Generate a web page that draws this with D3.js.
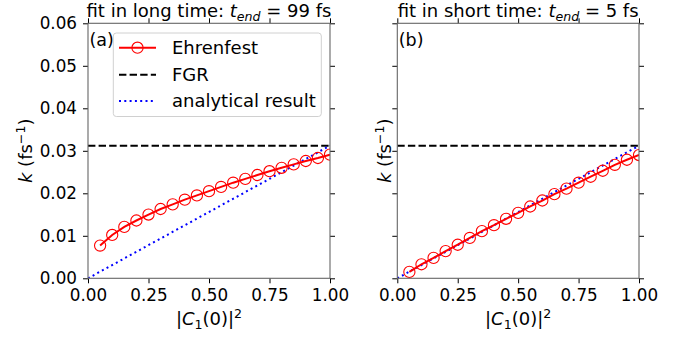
<!DOCTYPE html>
<html>
<head>
<meta charset="utf-8">
<script src="https://cdn.jsdelivr.net/npm/d3@7"></script>
<style>
body { margin: 0; background: #fff; }
svg text { font-family: "DejaVu Sans", sans-serif; fill: #000; }
</style>
</head>
<body>
<div id="chart"></div>
<script>
// |C1(0)|^2 values
var pops = [0.05, 0.10, 0.15, 0.20, 0.25, 0.30, 0.35, 0.40, 0.45, 0.50,
            0.55, 0.60, 0.65, 0.70, 0.75, 0.80, 0.85, 0.90, 0.95, 1.00]
// Ehrenfest rates, long time fit (a)
var ehrLong = [0.0077, 0.0102, 0.0121, 0.0136, 0.0150, 0.0163, 0.0174, 0.0185, 0.0195, 0.0205,
               0.0215, 0.0225, 0.0234, 0.0243, 0.0252, 0.0260, 0.0268, 0.0276, 0.0283, 0.0291]
// Ehrenfest rates, short time fit (b)
var ehrShort = [0.0015, 0.0033, 0.0048, 0.0064, 0.0079, 0.0095, 0.0111, 0.0125, 0.0140, 0.0154,
                0.0169, 0.0183, 0.0198, 0.0211, 0.0225, 0.0239, 0.0253, 0.0267, 0.0279, 0.0290]
var fgr = 0.0312
var analyticX = [0, 1]
var xTicks = [0, 0.25, 0.5, 0.75, 1.0]
var yTicks = [0, 0.01, 0.02, 0.03, 0.04, 0.05, 0.06]
var titleNums = ["99", "5"]
var titleWords = ["fit in long time: ", "fit in short time: "]
var panelTags = ["(a)", "(b)"]

var width = 680, height = 337
var plotTop = 23.3, plotBottom = 278.3
var fsTick = '16.8px', fsLab = '18px', fsSmall = '12.6px', fsTag = '17.5px'
var panels = [
    {x0: 88, x1: 330, data: ehrLong, showY: true, legend: true},
    {x0: 397.3, x1: 639, data: ehrShort, showY: false, legend: false}
]

var svg = d3.select('#chart').append('svg')
    .attr('width', width)
    .attr('height', height)

var defs = svg.append('defs')

panels.forEach(function(p, pi) {
    var scaleX = d3.scaleLinear().domain([0, 1]).range([p.x0, p.x1])
    var scaleY = d3.scaleLinear().domain([0, 0.06]).range([plotBottom, plotTop])
    var g = svg.append('g')

    defs.append('clipPath').attr('id', 'clip' + pi)
        .append('rect')
        .attr('x', p.x0).attr('y', plotTop)
        .attr('width', p.x1 - p.x0).attr('height', plotBottom - plotTop)

    var plot = g.append('g').attr('clip-path', 'url(#clip' + pi + ')')

    // FGR line
    plot.append('line')
        .attr('x1', scaleX(0)).attr('x2', scaleX(1))
        .attr('y1', scaleY(fgr)).attr('y2', scaleY(fgr))
        .attr('stroke', '#000').attr('stroke-width', 2)
        .attr('stroke-dasharray', '7.4,3.2')

    // analytical k = FGR * |C1(0)|^2
    var line = d3.line()
        .x(function(d) { return scaleX(d[0]) })
        .y(function(d) { return scaleY(d[1]) })
    plot.append('path')
        .datum(analyticX.map(function(x) { return [x, fgr * x] }))
        .attr('d', line)
        .attr('fill', 'none')
        .attr('stroke', '#0000ff').attr('stroke-width', 2)
        .attr('stroke-dasharray', '2,3.3')

    // Ehrenfest
    var pts = pops.map(function(x, i) { return [x, p.data[i]] })
    plot.append('path')
        .datum(pts)
        .attr('d', line)
        .attr('fill', 'none')
        .attr('stroke', '#ff0000').attr('stroke-width', 2)
    plot.selectAll('.mk')
        .data(pts)
        .enter().append('circle')
        .attr('class', 'mk')
        .attr('cx', function(d) { return scaleX(d[0]) })
        .attr('cy', function(d) { return scaleY(d[1]) })
        .attr('r', 5.6)
        .attr('fill', 'none')
        .attr('stroke', '#ff0000').attr('stroke-width', 1.1)

    // axes: ticks on all four sides
    var fmt = d3.format('.2f')
    var axB = g.append('g').attr('transform', 'translate(0,' + plotBottom + ')')
        .call(d3.axisBottom(scaleX).tickValues(xTicks).tickFormat(fmt).tickSize(5).tickPadding(6))
    var axT = g.append('g').attr('transform', 'translate(0,' + plotTop + ')')
        .call(d3.axisTop(scaleX).tickValues(xTicks).tickFormat('').tickSize(5))
    var axL = g.append('g').attr('transform', 'translate(' + p.x0 + ',0)')
        .call(d3.axisLeft(scaleY).tickValues(yTicks).tickFormat(p.showY ? fmt : '').tickSize(5).tickPadding(6))
    var axR = g.append('g').attr('transform', 'translate(' + p.x1 + ',0)')
        .call(d3.axisRight(scaleY).tickValues(yTicks).tickFormat('').tickSize(5))
    ;[axB, axT, axL, axR].forEach(function(a) {
        a.select('.domain').remove()
        a.selectAll('.tick line').attr('stroke', '#000').attr('stroke-width', 1)
        a.selectAll('.tick text').style('font-size', fsTick).attr('fill', '#000')
    })

    // frame
    g.append('rect')
        .attr('x', p.x0).attr('y', plotTop)
        .attr('width', p.x1 - p.x0).attr('height', plotBottom - plotTop)
        .attr('fill', 'none').attr('stroke', '#666').attr('stroke-width', 1.1)

    var cx = (p.x0 + p.x1) / 2

    // title
    var title = g.append('text').attr('x', cx).attr('y', 17)
        .attr('text-anchor', 'middle').style('font-size', fsLab)
    title.append('tspan').text(titleWords[pi])
    title.append('tspan').style('font-style', 'italic').text('t')
    title.append('tspan').style('font-style', 'italic').style('font-size', fsSmall)
        .attr('dy', 4).text('end')
    title.append('tspan').attr('dy', -4).text(' = ' + titleNums[pi] + ' fs')

    // x label
    var xl = g.append('text').attr('x', cx).attr('y', 325)
        .attr('text-anchor', 'middle').style('font-size', fsLab)
    xl.append('tspan').text('|')
    xl.append('tspan').style('font-style', 'italic').text('C')
    xl.append('tspan').style('font-size', fsSmall).attr('dy', 4).text('1')
    xl.append('tspan').attr('dy', -4).text('(0)|')
    xl.append('tspan').style('font-size', fsSmall).attr('dy', -7).text('2')

    // y label
    var lx = p.showY ? 32 : 391
    var yl = g.append('text')
        .attr('transform', 'translate(' + lx + ',' + ((plotTop + plotBottom) / 2) + ') rotate(-90)')
        .attr('text-anchor', 'middle').style('font-size', fsLab)
    yl.append('tspan').style('font-style', 'italic').text('k')
    yl.append('tspan').text(' (fs')
    yl.append('tspan').style('font-size', fsSmall).attr('dy', -7).text('\u22121')
    yl.append('tspan').attr('dy', 7).text(')')

    // panel tag
    g.append('text').attr('x', p.x0 + 1.5).attr('y', 45.5)
        .style('font-size', fsTag).text(panelTags[pi])

    // legend
    if (p.legend) {
        var lg = g.append('g')
        lg.append('rect')
            .attr('x', 113.3).attr('y', 33).attr('width', 208).attr('height', 83.5)
            .attr('rx', 3).attr('fill', '#fff').attr('fill-opacity', 0.8)
            .attr('stroke', '#d0d0d0').attr('stroke-width', 1)
        var rows = [
            {label: 'Ehrenfest', y: 47.7, color: '#ff0000', dash: null, marker: true},
            {label: 'FGR', y: 74.8, color: '#000', dash: '7.4,3.2', marker: false},
            {label: 'analytical result', y: 101, color: '#0000ff', dash: '2,3.3', marker: false}
        ]
        rows.forEach(function(r) {
            lg.append('line')
                .attr('x1', 119).attr('x2', 156)
                .attr('y1', r.y).attr('y2', r.y)
                .attr('stroke', r.color).attr('stroke-width', 2)
                .attr('stroke-dasharray', r.dash)
            if (r.marker) {
                lg.append('circle').attr('cx', 137.5).attr('cy', r.y).attr('r', 5.6)
                    .attr('fill', 'none').attr('stroke', r.color).attr('stroke-width', 1.1)
            }
            lg.append('text').attr('x', 172).attr('y', r.y + 6.4)
                .style('font-size', fsLab).text(r.label)
        })
    }
})
</script>
</body>
</html>
